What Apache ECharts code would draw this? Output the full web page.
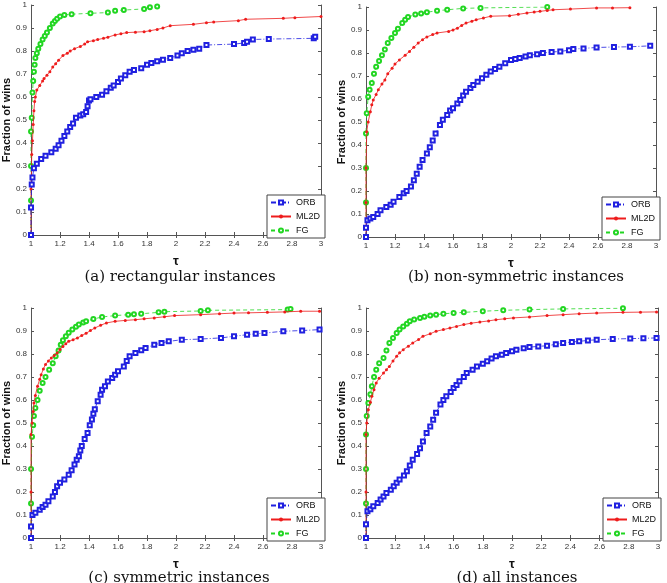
<!DOCTYPE html>
<html>
<head>
<meta charset="utf-8">
<script src="https://cdn.jsdelivr.net/npm/echarts@6/dist/echarts.min.js"></script>
<style>
  html, body { margin: 0; padding: 0; background: #fff; }
  #chart { width: 667px; height: 583px; }
</style>
</head>
<body>
<div id="chart"></div>
<script>
// tick labels
var xTicks = [1, 1.2, 1.4, 1.6, 1.8, 2, 2.2, 2.4, 2.6, 2.8, 3];
var yTicks = [0, 0.1, 0.2, 0.3, 0.4, 0.5, 0.6, 0.7, 0.8, 0.9, 1];
var seriesNames = ["ORB", "ML2D", "FG"];
var captions = ["(a) rectangular instances", "(b) non-symmetric instances",
                "(c) symmetric instances", "(d) all instances"];

// (a) rectangular
var orbA = [[1,0],[1,0.12],[1.005,0.22],[1.01,0.25],[1.02,0.29],[1.04,0.31],[1.07,0.33],[1.1,0.345],[1.14,0.36],[1.17,0.375],
  [1.19,0.39],[1.21,0.41],[1.23,0.43],[1.25,0.45],[1.27,0.47],[1.29,0.485],[1.31,0.51],[1.34,0.52],[1.36,0.525],[1.38,0.535],
  [1.39,0.56],[1.4,0.585],[1.41,0.59],[1.45,0.6],[1.49,0.61],[1.52,0.625],[1.55,0.64],[1.57,0.65],[1.6,0.665],[1.62,0.68],
  [1.65,0.695],[1.68,0.71],[1.71,0.717],[1.76,0.725],[1.8,0.74],[1.83,0.748],[1.87,0.755],[1.91,0.762],[1.96,0.77],[2.01,0.78],
  [2.04,0.79],[2.08,0.8],[2.12,0.805],[2.16,0.81],[2.21,0.826],[2.4,0.83],[2.47,0.835],[2.49,0.84],[2.53,0.85],[2.64,0.852],
  [2.95,0.855],[2.96,0.862]];
var mlA = [[1,0],[1,0.2],[1.005,0.35],[1.01,0.41],[1.015,0.48],[1.02,0.54],[1.025,0.58],[1.03,0.6],[1.04,0.63],[1.06,0.65],
  [1.08,0.67],[1.09,0.68],[1.11,0.695],[1.13,0.71],[1.15,0.73],[1.17,0.745],[1.19,0.76],[1.22,0.78],[1.25,0.79],[1.27,0.8],
  [1.3,0.81],[1.34,0.82],[1.37,0.83],[1.39,0.84],[1.43,0.845],[1.46,0.85],[1.5,0.855],[1.53,0.86],[1.58,0.87],[1.62,0.875],
  [1.66,0.88],[1.72,0.882],[1.78,0.884],[1.82,0.888],[1.87,0.894],[1.91,0.9],[1.96,0.91],[2.12,0.916],[2.21,0.923],[2.26,0.926],
  [2.43,0.932],[2.48,0.938],[2.74,0.942],[2.82,0.945],[3,0.95]];
var fgA = [[1,0],[1,0.15],[1,0.3],[1,0.45],[1.005,0.51],[1.01,0.62],[1.015,0.67],[1.02,0.71],[1.025,0.74],[1.03,0.77],
  [1.04,0.79],[1.05,0.81],[1.065,0.83],[1.08,0.85],[1.095,0.865],[1.11,0.88],[1.13,0.9],[1.15,0.92],[1.165,0.93],[1.18,0.94],
  [1.2,0.95],[1.23,0.957],[1.28,0.96],[1.41,0.964],[1.53,0.967],[1.58,0.975],[1.64,0.978],[1.78,0.983],[1.82,0.99],[1.87,0.993]];

// (b) non-symmetric
var orbB = [[1,0],[1,0.04],[1.01,0.073],[1.03,0.08],[1.05,0.087],[1.08,0.1],[1.1,0.116],[1.14,0.13],[1.17,0.14],[1.19,0.153],
  [1.23,0.174],[1.26,0.19],[1.28,0.2],[1.31,0.22],[1.33,0.247],[1.35,0.275],[1.37,0.305],[1.39,0.335],[1.42,0.363],[1.44,0.39],
  [1.46,0.42],[1.48,0.45],[1.51,0.487],[1.53,0.51],[1.56,0.53],[1.58,0.55],[1.6,0.56],[1.63,0.58],[1.65,0.596],[1.67,0.615],
  [1.69,0.632],[1.72,0.648],[1.74,0.661],[1.77,0.675],[1.8,0.69],[1.83,0.705],[1.86,0.72],[1.89,0.73],[1.92,0.74],[1.96,0.755],
  [2,0.77],[2.03,0.774],[2.06,0.778],[2.1,0.785],[2.13,0.79],[2.18,0.795],[2.22,0.8],[2.28,0.804],[2.34,0.807],[2.4,0.812],
  [2.43,0.817],[2.5,0.82],[2.59,0.824],[2.71,0.826],[2.82,0.827],[2.96,0.831]];
var mlB = [[1,0],[1,0.15],[1,0.3],[1.005,0.458],[1.015,0.5],[1.03,0.545],[1.04,0.575],[1.05,0.596],[1.07,0.62],[1.085,0.64],
  [1.11,0.665],[1.13,0.683],[1.15,0.71],[1.18,0.734],[1.2,0.752],[1.23,0.77],[1.27,0.79],[1.3,0.807],[1.33,0.825],[1.36,0.843],
  [1.39,0.858],[1.42,0.87],[1.46,0.88],[1.49,0.887],[1.57,0.894],[1.6,0.9],[1.63,0.908],[1.66,0.92],[1.69,0.93],[1.73,0.938],
  [1.76,0.945],[1.81,0.952],[1.86,0.96],[1.99,0.962],[2.05,0.968],[2.11,0.974],[2.16,0.978],[2.2,0.981],[2.25,0.985],[2.29,0.988],
  [2.41,0.991],[2.59,0.996],[2.7,0.996],[2.82,0.997]];
var fgB = [[1,0],[1,0.15],[1,0.3],[1,0.45],[1.005,0.538],[1.015,0.61],[1.025,0.64],[1.04,0.67],[1.055,0.71],[1.07,0.74],
  [1.09,0.765],[1.11,0.79],[1.13,0.815],[1.15,0.843],[1.175,0.865],[1.2,0.887],[1.22,0.905],[1.25,0.93],[1.27,0.945],[1.29,0.956],
  [1.34,0.967],[1.38,0.972],[1.42,0.977],[1.49,0.984],[1.56,0.988],[1.67,0.994],[1.79,0.996],[2.25,1]];

// (c) symmetric
var orbC = [[1,0],[1,0.05],[1.01,0.1],[1.03,0.11],[1.06,0.123],[1.08,0.135],[1.1,0.145],[1.12,0.16],[1.15,0.18],[1.165,0.2],
  [1.18,0.225],[1.2,0.24],[1.23,0.254],[1.26,0.275],[1.28,0.295],[1.3,0.32],[1.315,0.34],[1.33,0.355],[1.34,0.38],[1.35,0.4],
  [1.37,0.43],[1.39,0.457],[1.405,0.49],[1.42,0.515],[1.43,0.54],[1.44,0.56],[1.46,0.595],[1.48,0.623],[1.49,0.645],[1.51,0.66],
  [1.53,0.68],[1.56,0.696],[1.58,0.71],[1.6,0.725],[1.64,0.746],[1.66,0.77],[1.68,0.79],[1.72,0.804],[1.76,0.816],[1.79,0.826],
  [1.85,0.84],[1.9,0.848],[1.95,0.855],[2.04,0.862],[2.17,0.865],[2.31,0.87],[2.4,0.877],[2.49,0.884],[2.55,0.888],[2.61,0.891],
  [2.74,0.899],[2.87,0.902],[2.99,0.906]];
var mlC = [[1,0],[1,0.2],[1,0.45],[1.007,0.5],[1.015,0.55],[1.02,0.587],[1.03,0.62],[1.045,0.66],[1.06,0.69],[1.07,0.71],
  [1.085,0.735],[1.1,0.754],[1.12,0.77],[1.14,0.783],[1.16,0.794],[1.18,0.804],[1.2,0.82],[1.22,0.833],[1.24,0.845],[1.26,0.855],
  [1.29,0.862],[1.32,0.87],[1.35,0.88],[1.38,0.89],[1.41,0.902],[1.44,0.913],[1.48,0.925],[1.52,0.935],[1.58,0.942],[1.65,0.946],
  [1.72,0.949],[1.78,0.953],[1.85,0.957],[1.92,0.962],[1.99,0.967],[2.17,0.971],[2.3,0.975],[2.4,0.978],[2.5,0.979],[2.63,0.981],
  [2.75,0.983],[2.86,0.986],[2.99,0.986]];
var fgC = [[1,0],[1,0.15],[1,0.3],[1.007,0.44],[1.015,0.49],[1.02,0.53],[1.03,0.565],[1.045,0.6],[1.06,0.64],[1.08,0.674],
  [1.1,0.7],[1.125,0.732],[1.15,0.76],[1.17,0.79],[1.19,0.815],[1.205,0.84],[1.22,0.86],[1.24,0.877],[1.26,0.892],[1.285,0.906],
  [1.31,0.918],[1.33,0.928],[1.36,0.937],[1.38,0.942],[1.43,0.952],[1.49,0.961],[1.58,0.967],[1.67,0.971],[1.71,0.973],[1.76,0.975],
  [1.88,0.981],[1.92,0.984],[2.17,0.987],[2.22,0.99],[2.77,0.993],[2.79,0.996]];

// (d) all
var orbD = [[1,0],[1,0.06],[1.01,0.116],[1.03,0.125],[1.05,0.138],[1.08,0.152],[1.1,0.167],[1.12,0.18],[1.14,0.196],[1.17,0.21],
  [1.19,0.225],[1.21,0.24],[1.23,0.254],[1.26,0.272],[1.28,0.29],[1.3,0.315],[1.32,0.34],[1.35,0.365],[1.37,0.39],[1.39,0.42],
  [1.415,0.457],[1.44,0.485],[1.46,0.514],[1.48,0.545],[1.51,0.58],[1.53,0.6],[1.55,0.616],[1.58,0.635],[1.6,0.652],[1.62,0.665],
  [1.64,0.681],[1.67,0.7],[1.69,0.717],[1.73,0.732],[1.76,0.746],[1.8,0.758],[1.83,0.768],[1.86,0.78],[1.89,0.79],[1.93,0.797],
  [1.96,0.804],[2,0.812],[2.03,0.819],[2.08,0.825],[2.12,0.83],[2.18,0.833],[2.24,0.836],[2.3,0.842],[2.35,0.848],[2.41,0.852],
  [2.46,0.855],[2.52,0.859],[2.58,0.862],[2.69,0.865],[2.81,0.867],[2.9,0.868],[2.99,0.87]];
var mlD = [[1,0],[1,0.2],[1,0.45],[1.005,0.5],[1.016,0.558],[1.03,0.59],[1.04,0.616],[1.055,0.645],[1.07,0.674],[1.09,0.695],
  [1.12,0.717],[1.14,0.732],[1.16,0.746],[1.185,0.77],[1.21,0.79],[1.23,0.805],[1.255,0.819],[1.29,0.834],[1.32,0.848],[1.36,0.863],
  [1.39,0.877],[1.44,0.888],[1.48,0.899],[1.53,0.906],[1.575,0.913],[1.62,0.92],[1.67,0.928],[1.72,0.934],[1.78,0.939],[1.84,0.944],
  [1.89,0.949],[1.95,0.953],[2.01,0.957],[2.12,0.961],[2.24,0.967],[2.35,0.971],[2.46,0.975],[2.58,0.978],[2.76,0.981],[2.88,0.982],
  [2.99,0.983]];
var fgD = [[1,0],[1,0.15],[1,0.3],[1,0.45],[1.005,0.53],[1.016,0.587],[1.03,0.625],[1.04,0.66],[1.055,0.7],[1.07,0.732],
  [1.09,0.76],[1.12,0.783],[1.14,0.815],[1.16,0.848],[1.185,0.87],[1.21,0.891],[1.23,0.906],[1.255,0.92],[1.28,0.932],[1.3,0.942],
  [1.33,0.95],[1.37,0.957],[1.4,0.962],[1.44,0.967],[1.48,0.971],[1.53,0.975],[1.6,0.978],[1.67,0.981],[1.8,0.986],[1.94,0.99],
  [2.12,0.993],[2.35,0.996],[2.76,0.999]];

var panelData = [[orbA, mlA, fgA], [orbB, mlB, fgB], [orbC, mlC, fgC], [orbD, mlD, fgD]];

var grids = [
  { left: 30, top: 5, width: 291, height: 230 },
  { left: 366, top: 7, width: 290, height: 230 },
  { left: 28, top: 308, width: 293, height: 230 },
  { left: 366, top: 308, width: 292, height: 230 }
];
var legendPos = [
  { left: 267, top: 195 },
  { left: 602, top: 197 },
  { left: 267, top: 498 },
  { left: 603, top: 498 }
];
var captionPos = [[175, 265], [511, 265], [174, 566], [512, 566]];

var styles = [
  { color: "#2020e0", symbol: "emptyRect", size: 4, line: [5, 2, 1, 2] },
  { color: "#ee1c1c", symbol: "circle", size: 3, line: "solid" },
  { color: "#22d622", symbol: "emptyCircle", size: 4, line: [4, 3] }
];

var tickFont = { fontSize: 8, color: "#333", fontFamily: "Liberation Sans" };
var axisLine = { lineStyle: { color: "#555", width: 1 } };

var xAxes = [], yAxes = [], series = [], legends = [], titles = [];
grids.forEach(function (g, i) {
  xAxes.push({
    type: "value", gridIndex: i, min: 1, max: 3, interval: 0.2, position: "bottom",
    name: "τ", nameLocation: "middle", nameGap: 20,
    nameTextStyle: { fontSize: 13, fontWeight: "bold", color: "#111", fontFamily: "Liberation Sans" },
    axisLine: axisLine, axisTick: { inside: true, length: 3, lineStyle: { color: "#555" } },
    axisLabel: Object.assign({ margin: 5 }, tickFont, {
      formatter: function (v) { return xTicks.indexOf(Math.round(v * 10) / 10) >= 0 ? String(Math.round(v * 10) / 10) : ""; }
    }),
    splitLine: { show: false }
  });
  yAxes.push({
    type: "value", gridIndex: i, min: 0, max: 1, interval: 0.1, position: "left",
    name: "Fraction of wins", nameLocation: "middle", nameGap: 19,
    nameTextStyle: { fontSize: 11, fontWeight: "bold", color: "#111", fontFamily: "Liberation Sans" },
    axisLine: axisLine, axisTick: { inside: true, length: 3, lineStyle: { color: "#555" } },
    axisLabel: Object.assign({ margin: 4 }, tickFont, {
      formatter: function (v) { return String(Math.round(v * 10) / 10); }
    }),
    splitLine: { show: false }
  });
  legends.push({
    data: seriesNames, orient: "vertical", left: legendPos[i].left, top: legendPos[i].top,
    itemWidth: 20, itemHeight: 5, itemGap: 5, padding: [3, 5, 3, 3],
    borderColor: "#444", borderWidth: 1, backgroundColor: "#fff",
    textStyle: { fontSize: 9, color: "#111", fontFamily: "Liberation Sans" }
  });
  titles.push({
    text: captions[i], left: captionPos[i][0], top: captionPos[i][1], textAlign: "center",
    textStyle: { fontSize: 15, fontWeight: "normal", color: "#111", fontFamily: "DejaVu Serif" }
  });
  panelData[i].forEach(function (d, k) {
    var s = styles[k];
    series.push({
      name: seriesNames[k], type: "line", xAxisIndex: i, yAxisIndex: i,
      data: d, symbol: s.symbol, symbolSize: s.size, showAllSymbol: true,
      lineStyle: { color: s.color, width: 0.8, type: s.line },
      itemStyle: { color: s.color, borderWidth: 0.8 },
      animation: false, z: 3 + (2 - k)
    });
  });
});
// box: top and right axes with inward ticks
grids.forEach(function (g, i) {
  xAxes.push({
    type: "value", gridIndex: i, min: 1, max: 3, interval: 0.2, position: "top",
    axisLine: axisLine, axisTick: { inside: true, length: 3, lineStyle: { color: "#555" } },
    axisLabel: { show: false }, splitLine: { show: false }
  });
  yAxes.push({
    type: "value", gridIndex: i, min: 0, max: 1, interval: 0.1, position: "right",
    axisLine: axisLine, axisTick: { inside: true, length: 3, lineStyle: { color: "#555" } },
    axisLabel: { show: false }, splitLine: { show: false }
  });
});

var myChart = echarts.init(document.getElementById("chart"));
myChart.setOption({
  backgroundColor: "#fff",
  animation: false,
  title: titles,
  grid: grids,
  xAxis: xAxes,
  yAxis: yAxes,
  legend: legends,
  series: series
});
</script>
</body>
</html>
